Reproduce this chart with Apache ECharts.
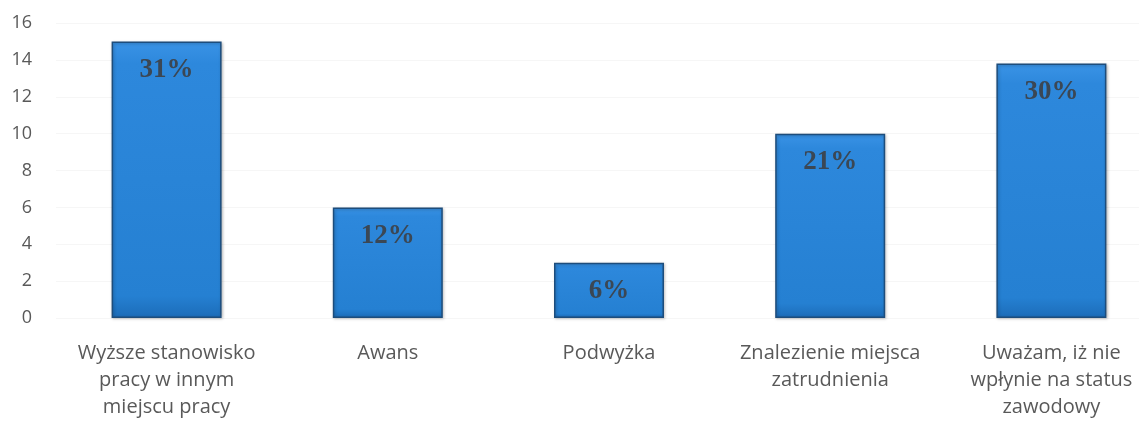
<!DOCTYPE html>
<html>
<head>
<meta charset="utf-8">
<script src="https://cdn.jsdelivr.net/npm/echarts@6/dist/echarts.min.js"></script>
<style>
  html, body { margin: 0; padding: 0; background: #fff; }
  #chart { width: 1139px; height: 421px; }
</style>
</head>
<body>
<div id="chart"></div>
<script>
// Categories (answers) and counts
var categories = [
  'Wyższe stanowisko\npracy w innym\nmiejscu pracy',
  'Awans',
  'Podwyżka',
  'Znalezienie miejsca\nzatrudnienia',
  'Uważam, iż nie\nwpłynie na status\nzawodowy'
];
var counts = [15, 6, 3, 10, 13.8];
var percentLabels = ['31%', '12%', '6%', '21%', '30%'];

var chart = echarts.init(document.getElementById('chart'));

var option = {
  animation: false,
  grid: {
    left: 56,
    width: 1106,
    top: 23,
    bottom: 103,
    outerBoundsMode: 'none',
    containLabel: false
  },
  xAxis: {
    type: 'category',
    data: categories,
    axisLine: { show: false },
    axisTick: { show: false },
    axisLabel: {
      color: '#595959',
      fontFamily: 'Open Sans',
      fontSize: 20,
      lineHeight: 27,
      margin: 22,
      interval: 0
    }
  },
  yAxis: {
    type: 'value',
    min: 0,
    max: 16,
    interval: 2,
    axisLine: { show: false },
    axisTick: { show: false },
    splitLine: { lineStyle: { color: '#f6f6f6', width: 1 } },
    axisLabel: {
      color: '#595959',
      fontFamily: 'Open Sans',
      fontSize: 18,
      margin: 24,
      align: 'right'
    }
  },
  series: [
    {
      type: 'bar',
      data: counts,
      barWidth: 110,
      itemStyle: {
        color: new echarts.graphic.LinearGradient(0, 0, 0, 1, [
          { offset: 0, color: '#3a93e6' },
          { offset: 0.08, color: '#2d88dc' },
          { offset: 0.92, color: '#2580d2' },
          { offset: 1, color: '#1c6cb8' }
        ]),
        borderColor: '#1d4d7c',
        borderWidth: 1.5,
        shadowColor: 'rgba(0,0,0,0.25)',
        shadowBlur: 3,
        shadowOffsetX: 1,
        shadowOffsetY: 1
      },
      label: {
        show: true,
        position: 'insideTop',
        distance: 15,
        color: '#3b4754',
        fontFamily: 'Liberation Serif',
        fontWeight: 'bold',
        fontSize: 27,
        formatter: function (p) { return percentLabels[p.dataIndex]; }
      }
    }
  ]
};

chart.setOption(option);
</script>
</body>
</html>
